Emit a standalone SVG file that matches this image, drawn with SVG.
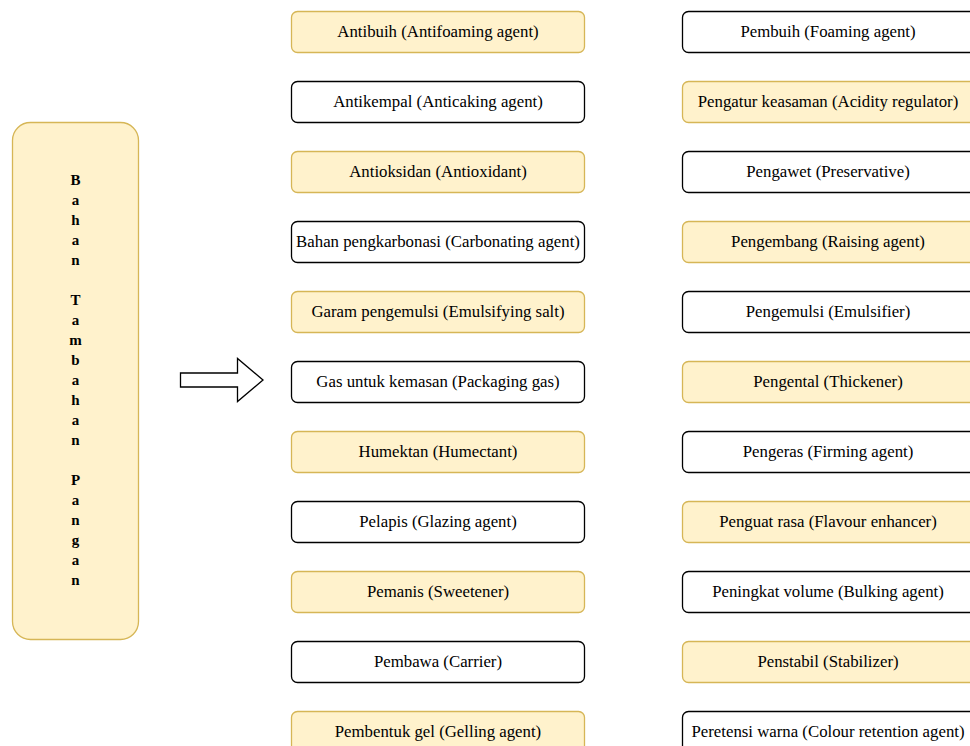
<svg xmlns="http://www.w3.org/2000/svg" width="970" height="746" viewBox="0 0 970 746">
<style>
.y{fill:#fff2cc;stroke:#d6b656;stroke-width:1.3}
.w{fill:#ffffff;stroke:#000000;stroke-width:1.3}
.t{font-family:"Liberation Serif","Times New Roman",serif;font-size:16.8px;fill:#000;text-anchor:middle}
.v{font-family:"Liberation Serif","Times New Roman",serif;font-size:15px;font-weight:bold;fill:#000;text-anchor:middle}
</style>
<rect width="970" height="746" fill="#ffffff"/>
<g id="main">
<rect class="y" x="12.5" y="122.5" width="126" height="517" rx="18"/>
<text class="v" x="75.5" y="185"><tspan x="75.5" dy="0">B</tspan><tspan x="75.5" dy="20">a</tspan><tspan x="75.5" dy="20">h</tspan><tspan x="75.5" dy="20">a</tspan><tspan x="75.5" dy="20">n</tspan><tspan x="75.5" dy="40">T</tspan><tspan x="75.5" dy="20">a</tspan><tspan x="75.5" dy="20">m</tspan><tspan x="75.5" dy="20">b</tspan><tspan x="75.5" dy="20">a</tspan><tspan x="75.5" dy="20">h</tspan><tspan x="75.5" dy="20">a</tspan><tspan x="75.5" dy="20">n</tspan><tspan x="75.5" dy="40">P</tspan><tspan x="75.5" dy="20">a</tspan><tspan x="75.5" dy="20">n</tspan><tspan x="75.5" dy="20">g</tspan><tspan x="75.5" dy="20">a</tspan><tspan x="75.5" dy="20">n</tspan></text>
</g>
<g id="connectors">
<path d="M180.5,373 L237.5,373 L237.5,358.5 L263,380 L237.5,401.5 L237.5,387 L180.5,387 Z" fill="#ffffff" stroke="#000" stroke-width="1.3"/>
</g>
<g id="l1"><rect class="y" x="291.5" y="11.5" width="293" height="41" rx="6"/><text class="t" x="438" y="37">Antibuih (Antifoaming agent)</text></g>
<g id="l2"><rect class="w" x="291.5" y="81.5" width="293" height="41" rx="6"/><text class="t" x="438" y="107">Antikempal (Anticaking agent)</text></g>
<g id="l3"><rect class="y" x="291.5" y="151.5" width="293" height="41" rx="6"/><text class="t" x="438" y="177">Antioksidan (Antioxidant)</text></g>
<g id="l4"><rect class="w" x="291.5" y="221.5" width="293" height="41" rx="6"/><text class="t" x="438" y="247">Bahan pengkarbonasi (Carbonating agent)</text></g>
<g id="l5"><rect class="y" x="291.5" y="291.5" width="293" height="41" rx="6"/><text class="t" x="438" y="317">Garam pengemulsi (Emulsifying salt)</text></g>
<g id="l6"><rect class="w" x="291.5" y="361.5" width="293" height="41" rx="6"/><text class="t" x="438" y="387">Gas untuk kemasan (Packaging gas)</text></g>
<g id="l7"><rect class="y" x="291.5" y="431.5" width="293" height="41" rx="6"/><text class="t" x="438" y="457">Humektan (Humectant)</text></g>
<g id="l8"><rect class="w" x="291.5" y="501.5" width="293" height="41" rx="6"/><text class="t" x="438" y="527">Pelapis (Glazing agent)</text></g>
<g id="l9"><rect class="y" x="291.5" y="571.5" width="293" height="41" rx="6"/><text class="t" x="438" y="597">Pemanis (Sweetener)</text></g>
<g id="l10"><rect class="w" x="291.5" y="641.5" width="293" height="41" rx="6"/><text class="t" x="438" y="667">Pembawa (Carrier)</text></g>
<g id="l11"><rect class="y" x="291.5" y="711.5" width="293" height="41" rx="6"/><text class="t" x="438" y="737">Pembentuk gel (Gelling agent)</text></g>
<g id="r1"><rect class="w" x="682.5" y="11.5" width="293" height="41" rx="6"/><text class="t" x="828" y="37">Pembuih (Foaming agent)</text></g>
<g id="r2"><rect class="y" x="682.5" y="81.5" width="293" height="41" rx="6"/><text class="t" x="828" y="107">Pengatur keasaman (Acidity regulator)</text></g>
<g id="r3"><rect class="w" x="682.5" y="151.5" width="293" height="41" rx="6"/><text class="t" x="828" y="177">Pengawet (Preservative)</text></g>
<g id="r4"><rect class="y" x="682.5" y="221.5" width="293" height="41" rx="6"/><text class="t" x="828" y="247">Pengembang (Raising agent)</text></g>
<g id="r5"><rect class="w" x="682.5" y="291.5" width="293" height="41" rx="6"/><text class="t" x="828" y="317">Pengemulsi (Emulsifier)</text></g>
<g id="r6"><rect class="y" x="682.5" y="361.5" width="293" height="41" rx="6"/><text class="t" x="828" y="387">Pengental (Thickener)</text></g>
<g id="r7"><rect class="w" x="682.5" y="431.5" width="293" height="41" rx="6"/><text class="t" x="828" y="457">Pengeras (Firming agent)</text></g>
<g id="r8"><rect class="y" x="682.5" y="501.5" width="293" height="41" rx="6"/><text class="t" x="828" y="527">Penguat rasa (Flavour enhancer)</text></g>
<g id="r9"><rect class="w" x="682.5" y="571.5" width="293" height="41" rx="6"/><text class="t" x="828" y="597">Peningkat volume (Bulking agent)</text></g>
<g id="r10"><rect class="y" x="682.5" y="641.5" width="293" height="41" rx="6"/><text class="t" x="828" y="667">Penstabil (Stabilizer)</text></g>
<g id="r11"><rect class="w" x="682.5" y="711.5" width="293" height="41" rx="6"/><text class="t" x="828" y="737">Peretensi warna (Colour retention agent)</text></g>
</svg>
